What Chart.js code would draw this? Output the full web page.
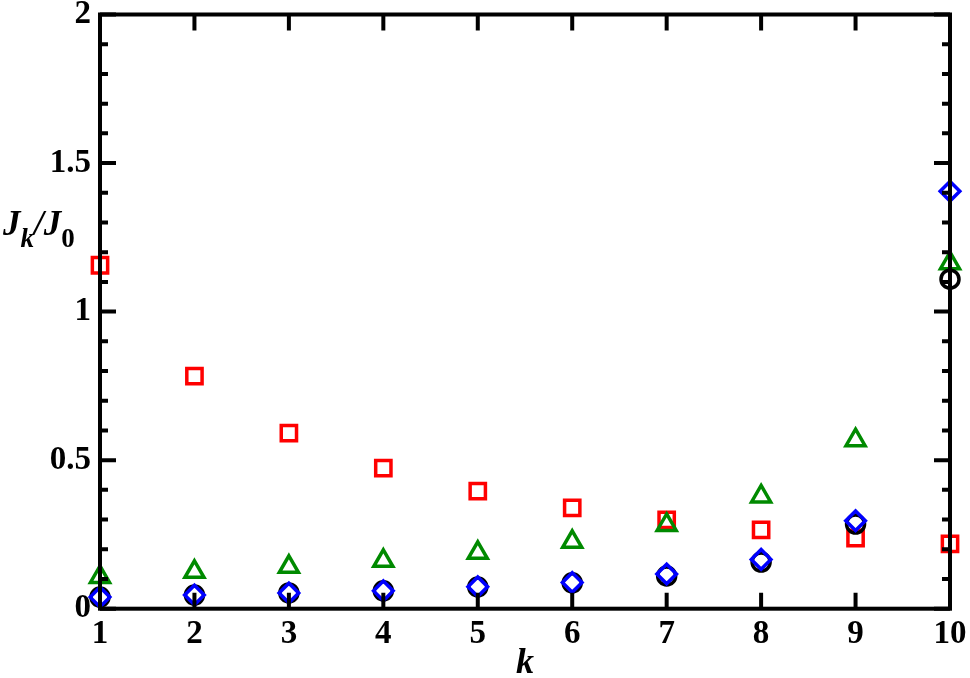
<!DOCTYPE html>
<html>
<head>
<meta charset="utf-8">
<script src="https://cdn.jsdelivr.net/npm/chart.js@4"></script>
<style>
  html, body { margin: 0; padding: 0; background: #fff; }
  #wrap { width: 970px; height: 678px; position: relative; }
</style>
</head>
<body>
<div id="wrap"><canvas id="chart"></canvas></div>
<script>
  // ── Data ────────────────────────────────────────────────────────────────
  const kValues   = [1, 2, 3, 4, 5, 6, 7, 8, 9, 10];
  const squareRed = [1.156, 0.783, 0.591, 0.473, 0.396, 0.339, 0.299, 0.265, 0.238, 0.218];
  const triGreen  = [0.107, 0.124, 0.141, 0.161, 0.188, 0.225, 0.282, 0.378, 0.567, 1.163];
  const circBlack = [0.039, 0.046, 0.053, 0.060, 0.073, 0.087, 0.110, 0.157, 0.285, 1.109];
  const diamBlue  = [0.039, 0.046, 0.053, 0.060, 0.074, 0.088, 0.117, 0.166, 0.296, 1.405];

  const xTicks = [1, 2, 3, 4, 5, 6, 7, 8, 9, 10];
  const yTicks = [0, 0.5, 1, 1.5, 2];
  const yTickLabels = ['0', '0.5', '1', '1.5', '2'];
  const yMinorStep = 0.1;

  const pts = (ys) => kValues.map((k, i) => ({ x: k, y: ys[i] }));
  const SERIF = '"Liberation Serif", "DejaVu Serif", serif';

  // ── Frame + inward ticks (Grace-style), drawn from the scales ───────────
  const framePlugin = {
    id: 'frame',
    afterDatasetsDraw(chart) {
      const { ctx, chartArea: a, scales: { x, y } } = chart;
      ctx.save();
      ctx.strokeStyle = '#000';
      ctx.lineWidth = 4;
      ctx.lineCap = 'butt';
      ctx.beginPath();
      xTicks.forEach(v => {
        const px = x.getPixelForValue(v);
        ctx.moveTo(px, a.bottom); ctx.lineTo(px, a.bottom - 16);
        ctx.moveTo(px, a.top);    ctx.lineTo(px, a.top + 16);
      });
      for (let i = 0; i <= 20; i++) {
        const v = i * yMinorStep;
        const major = i % 5 === 0;
        const len = major ? 16 : 8;
        const py = y.getPixelForValue(v);
        ctx.moveTo(a.left, py);  ctx.lineTo(a.left + len, py);
        ctx.moveTo(a.right, py); ctx.lineTo(a.right - len, py);
      }
      ctx.stroke();
      ctx.strokeRect(a.left, a.top, a.right - a.left, a.bottom - a.top);
      ctx.restore();
    }
  };

  // ── Axis titles: k below, J_k/J_0 horizontal on the left ───────────────
  const titlePlugin = {
    id: 'titles',
    afterDraw(chart) {
      const { ctx, chartArea: a } = chart;
      ctx.save();
      ctx.fillStyle = '#000';
      ctx.textBaseline = 'alphabetic';
      // x title
      ctx.textAlign = 'center';
      ctx.font = 'italic bold 36px ' + SERIF;
      ctx.fillText('k', (a.left + a.right) / 2, 673);
      // y title, built piece by piece
      ctx.textAlign = 'left';
      let cx = 3;
      const base = 235, sub = 247;
      const part = (txt, font, by) => {
        ctx.font = font;
        ctx.fillText(txt, cx, by);
        cx += ctx.measureText(txt).width;
      };
      part('J', 'italic bold 35px ' + SERIF, base);
      part('k', 'italic bold 27px ' + SERIF, sub);
      part('/', 'italic bold 35px ' + SERIF, base);
      part('J', 'italic bold 35px ' + SERIF, base);
      part('0', 'bold 27px ' + SERIF, sub);
      ctx.restore();
    }
  };

  const common = { showLine: false, clip: false, borderWidth: 3.5 };

  new Chart(document.getElementById('chart'), {
    type: 'scatter',
    data: {
      datasets: [
        { label: 'diamond', data: pts(diamBlue), pointStyle: 'rectRot', pointRadius: 9.8,
          borderColor: '#0000ff', backgroundColor: 'rgba(0,0,0,0)', ...common },
        { label: 'circle', data: pts(circBlack), pointStyle: 'circle', pointRadius: 9,
          borderColor: '#000000', backgroundColor: 'rgba(0,0,0,0)', ...common },
        { label: 'triangle', data: pts(triGreen), pointStyle: 'triangle', pointRadius: 11,
          borderColor: '#008a00', backgroundColor: 'rgba(0,0,0,0)', ...common },
        { label: 'square', data: pts(squareRed), pointStyle: 'rect', pointRadius: 10.8,
          borderColor: '#ff0000', backgroundColor: 'rgba(0,0,0,0)', ...common }
      ]
    },
    options: {
      responsive: true,
      maintainAspectRatio: false,
      animation: false,
      devicePixelRatio: 1,
      layout: { padding: { top: 14, right: 20, left: 0, bottom: 0 } },
      plugins: { legend: { display: false }, tooltip: { enabled: false } },
      scales: {
        x: {
          type: 'linear', min: 1, max: 10,
          afterFit: (s) => { s.height = 69.3; s.paddingLeft = 0; s.paddingRight = 0; },
          afterBuildTicks: (s) => { s.ticks = xTicks.map(v => ({ value: v })); },
          grid: { display: false, drawTicks: false },
          border: { display: false },
          ticks: { color: '#000', padding: 6, maxRotation: 0,
                   font: { family: SERIF, weight: 'bold', size: 33 } }
        },
        y: {
          type: 'linear', min: 0, max: 2,
          afterFit: (s) => { s.width = 100; s.paddingTop = 0; s.paddingBottom = 0; },
          afterBuildTicks: (s) => { s.ticks = yTicks.map(v => ({ value: v })); },
          grid: { display: false, drawTicks: false },
          border: { display: false },
          ticks: { color: '#000', padding: 9,
                   callback: (v) => yTickLabels[yTicks.indexOf(v)],
                   font: { family: SERIF, weight: 'bold', size: 33 } }
        }
      }
    },
    plugins: [framePlugin, titlePlugin]
  });
</script>
</body>
</html>
